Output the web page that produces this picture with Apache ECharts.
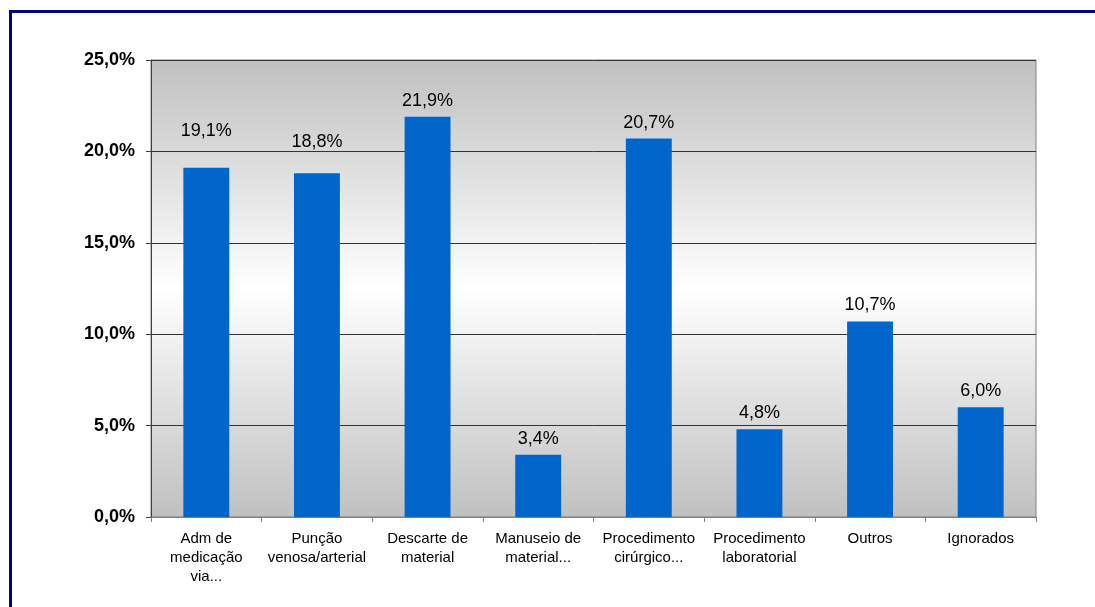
<!DOCTYPE html>
<html>
<head>
<meta charset="utf-8">
<script src="https://cdn.jsdelivr.net/npm/echarts@6/dist/echarts.min.js"></script>
<style>
  html, body { margin: 0; padding: 0; background: #fff; overflow: hidden; }
  #chart { position: absolute; left: 0; top: 0; width: 1095px; height: 607px; }
  .frame {
    position: absolute; left: 9px; top: 10px; width: 1300px; height: 800px;
    border: 3px solid #000080; pointer-events: none;
  }
</style>
</head>
<body>
<div id="chart"></div>
<div class="frame"></div>
<script>
// categories (x axis) and percentages
const categories = [
  'Adm de\nmedicação\nvia...',
  'Punção\nvenosa/arterial',
  'Descarte de\nmaterial',
  'Manuseio de\nmaterial...',
  'Procedimento\ncirúrgico...',
  'Procedimento\nlaboratorial',
  'Outros',
  'Ignorados'
]
const values = [19.1, 18.8, 21.9, 3.4, 20.7, 4.8, 10.7, 6.0]

// some labels were nudged up in the original
const labelShift = [-21, -15, 0, 0, 0, 0, 0, 0]

const fmt = v => v.toFixed(1).replace('.', ',') + '%'

const chart = echarts.init(document.getElementById('chart'))

const option = {
  animation: false,
  textStyle: { fontFamily: 'Liberation Sans, Arial, sans-serif' },
  grid: {
    left: 151,
    right: 59,
    top: 60,
    bottom: 90,
    show: true,
    borderColor: '#808080',
    borderWidth: 1,
    backgroundColor: new echarts.graphic.LinearGradient(0, 0, 0, 1, [
      { offset: 0, color: '#c0c0c0' },
      { offset: 0.5, color: '#ffffff' },
      { offset: 1, color: '#c0c0c0' }
    ])
  },
  xAxis: {
    type: 'category',
    data: categories,
    axisLine: { lineStyle: { color: '#808080', width: 1 } },
    axisTick: { show: true, length: 5, lineStyle: { color: '#808080' } },
    axisLabel: {
      color: '#000',
      fontSize: 15,
      lineHeight: 19,
      margin: 12,
      interval: 0
    }
  },
  yAxis: {
    type: 'value',
    min: 0,
    max: 25,
    interval: 5,
    axisLine: { show: true, lineStyle: { color: '#404040', width: 1 } },
    axisTick: { show: true, length: 5, lineStyle: { color: '#404040' } },
    axisLabel: {
      color: '#000',
      fontSize: 18,
      fontWeight: 'bold',
      margin: 16,
      formatter: v => fmt(v)
    },
    splitLine: { lineStyle: { color: '#333', width: 1 } }
  },
  series: [{
    type: 'bar',
    barWidth: '41.5%',
    itemStyle: { color: '#0066cc' },
    data: values.map((v, i) => ({
      value: v,
      label: { offset: [0, labelShift[i]] }
    })),
    label: {
      show: true,
      position: 'top',
      distance: 7,
      color: '#000',
      fontSize: 18,
      formatter: p => fmt(p.value)
    }
  }]
}

chart.setOption(option)
</script>
</body>
</html>
